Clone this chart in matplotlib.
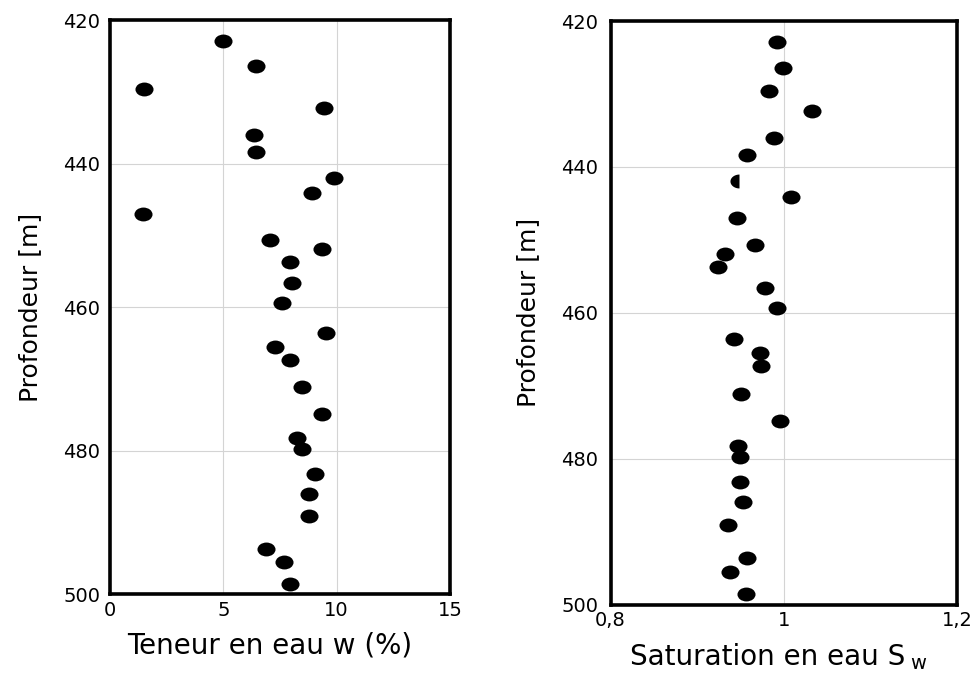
import matplotlib
matplotlib.use("Agg")
import matplotlib.pyplot as plt
import numpy as np
from matplotlib.path import Path
from matplotlib.transforms import Affine2D

plt.rcParams['font.family'] = ['DejaVu Sans']
plt.rcParams['mathtext.default'] = 'regular'

# depth of each sample (m), shared by both profiles
depth = [422.9, 426.4, 429.6, 432.3, 436.0, 438.4, 442.0, 444.1, 447.0,
         450.7, 451.9, 453.7, 456.6, 459.4, 463.6, 465.5, 467.3, 471.1,
         474.9, 478.2, 479.8, 483.2, 486.0, 489.1, 493.6, 495.5, 498.6]

# water content w (%)
teneur = [4.97, 6.43, 1.51, 9.46, 6.35, 6.43, 9.87, 8.91, 1.44,
          7.07, 9.35, 7.96, 8.04, 7.59, 9.51, 7.29, 7.96, 8.46,
          9.34, 8.24, 8.46, 9.03, 8.76, 8.76, 6.88, 7.69, 7.93]

# saturation Sw
saturation = [0.992, 0.999, 0.983, 1.032, 0.989, 0.957, 0.948, 1.008, 0.946,
              0.967, 0.932, 0.924, 0.978, 0.992, 0.942, 0.972, 0.974, 0.951,
              0.996, 0.947, 0.949, 0.949, 0.953, 0.936, 0.958, 0.938, 0.956]

# the Sw point at 442 m is drawn as half a dot in the original
half_dot = 6

x_ticks_w = [0, 5, 10, 15]
x_ticks_sw = [0.8, 1.0, 1.2]
x_labels_sw = ['0,8', '1', '1,2']
y_ticks = [420, 440, 460, 480, 500]

# slightly flattened dot, and its left half
ellipse = Path.unit_circle().transformed(Affine2D().scale(1.3, 1.0))
half_verts = [(0, -1)]
for a in np.linspace(-np.pi / 2, -3 * np.pi / 2, 30):
    half_verts.append((1.3 * np.cos(a), np.sin(a)))
half_verts.append((0, -1))
half = Path(half_verts, closed=True)

fig = plt.figure(figsize=(9.75, 6.78), dpi=100)
ax1 = fig.add_axes([0.1128, 0.1232, 0.3487, 0.8473])
ax2 = fig.add_axes([0.6262, 0.1084, 0.3554, 0.8606])


def style(ax, ypad):
    ax.set_ylim(500, 420)
    ax.set_yticks(y_ticks)
    ax.grid(True, color='#d4d4d4', linewidth=0.8)
    ax.set_axisbelow(True)
    ax.tick_params(length=0, labelsize=14)
    ax.tick_params(axis='x', pad=5)
    ax.tick_params(axis='y', pad=ypad)
    for s in ax.spines.values():
        s.set_linewidth(2.6)
    ax.set_ylabel('Profondeur [m]', fontsize=18)


ax1.plot(teneur, depth, linestyle='none', marker=ellipse, markersize=13,
         color='black', markeredgewidth=0)
ax1.set_xlim(0, 15)
ax1.set_xticks(x_ticks_w)
style(ax1, 7)
ax1.yaxis.set_label_coords(-0.2, 0.5)
ax1.set_xlabel('Teneur en eau w (%)', fontsize=20)
ax1.xaxis.set_label_coords(0.47, -0.065)

full_sw = [v for i, v in enumerate(saturation) if i != half_dot]
full_d = [v for i, v in enumerate(depth) if i != half_dot]
ax2.plot(full_sw, full_d, linestyle='none', marker=ellipse, markersize=13,
         color='black', markeredgewidth=0)
ax2.plot([saturation[half_dot]], [depth[half_dot]], linestyle='none',
         marker=half, markersize=13, color='black', markeredgewidth=0)
ax2.set_xlim(0.8, 1.2)
ax2.set_xticks(x_ticks_sw)
ax2.set_xticklabels(x_labels_sw)
style(ax2, 9)
ax2.yaxis.set_label_coords(-0.203, 0.5)
ax2.set_xlabel('Saturation en eau S', fontsize=20)
ax2.xaxis.set_label_coords(0.453, -0.066)
fig.text(918 / 975, 0.008, 'w', fontsize=14, ha='center', va='bottom')

fig.savefig('out.png', dpi=100)
